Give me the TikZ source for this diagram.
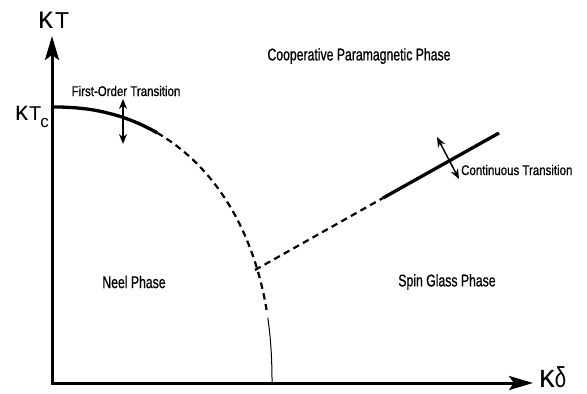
\documentclass[tikz,border=0pt]{standalone}
\usepackage{fontspec}
\setmainfont{Liberation Sans}
\newfontfamily\narrowfont[FakeStretch=0.82,FakeBold=0.8]{Liberation Sans}
\newfontfamily\phasefont[FakeStretch=0.72,FakeBold=0.8]{Liberation Sans}
\usetikzlibrary{arrows.meta}
\newcommand{\kap}{\scalebox{1.3}[1.35]{κ}}
\begin{document}
\begin{tikzpicture}[x=1pt,y=-1pt,
  axis/.style={line width=3pt,-{Stealth[length=24pt,width=14pt,inset=5pt]}},
  thickcurve/.style={line width=3.3pt},
  dashcurve/.style={line width=2.2pt,dash pattern=on 6.5pt off 4.5pt},
  dblarrow/.style={line width=1.5pt,{Stealth[length=10pt,width=8pt]}-{Stealth[length=10pt,width=8pt]}},
  lbl/.style={font=\narrowfont\fontsize{14}{16}\selectfont,inner sep=0pt},
  phase/.style={font=\phasefont\fontsize{17}{19}\selectfont,inner sep=0pt},
  sym/.style={font=\fontsize{23}{25}\selectfont,inner sep=0pt}]
\useasboundingbox (0,0) rectangle (587,394);
% axes
\coordinate (O) at (52,383);
\coordinate (ytip) at (52,36);
\coordinate (xtip) at (533,383);
\coordinate (Ox) at (50.5,383);
\draw[axis] (O) -- (ytip);
\draw[axis] (Ox) -- (xtip);
% phase boundary (superellipse)
\draw[thickcurve] plot[domain=90:63.8,samples=40,smooth]
  ({53+219*pow(cos(\x),0.909)},{383-276*pow(sin(\x),0.909)});
\draw[dashcurve] plot[domain=63.8:13.4,samples=60,smooth]
  ({53+219*pow(cos(\x),0.909)},{383-276*pow(sin(\x),0.909)});
\draw[line width=1pt] plot[domain=11.8:0.05,samples=20,smooth]
  ({53+219*pow(cos(\x),0.909)},{383-276*pow(sin(\x),0.909)});
% spin glass boundary
\coordinate (J) at (255,270);
\coordinate (M) at (383,198);
\coordinate (E) at (499,133);
\draw[dashcurve] (J) -- (M);
\draw[thickcurve] (M) -- (E);
% transition arrows
\coordinate (a1) at (123,99);
\coordinate (a2) at (123,144);
\draw[dblarrow] (a1) -- (a2);
\coordinate (b1) at (437,137);
\coordinate (b2) at (459,179);
\draw[dblarrow] (b1) -- (b2);
% labels
\node[sym,anchor=base west] (kT) at (38,28) {\kap\kern2pt T};
\node[sym,anchor=base west,font=\fontsize{20}{22}\selectfont] (kTc) at (15,120) {\kap\kern1pt T\kern-1pt\raisebox{-7pt}{\fontsize{17}{18}\selectfont c}};
\node[sym,anchor=base west,font=\fontsize{24}{26}\selectfont] (kd) at (539,387) {\kap\scalebox{0.85}[1.2]{δ}};
\node[lbl] (fo) at (126,91) {First-Order Transition};
\node[lbl,anchor=west] (ct) at (461,170) {Continuous Transition};
\node[phase] (cp) at (359,56) {Cooperative Paramagnetic Phase};
\node[phase] (neel) at (134,282) {Neel Phase};
\node[phase] (sg) at (447,282) {Spin Glass Phase};
\end{tikzpicture}
\end{document}
